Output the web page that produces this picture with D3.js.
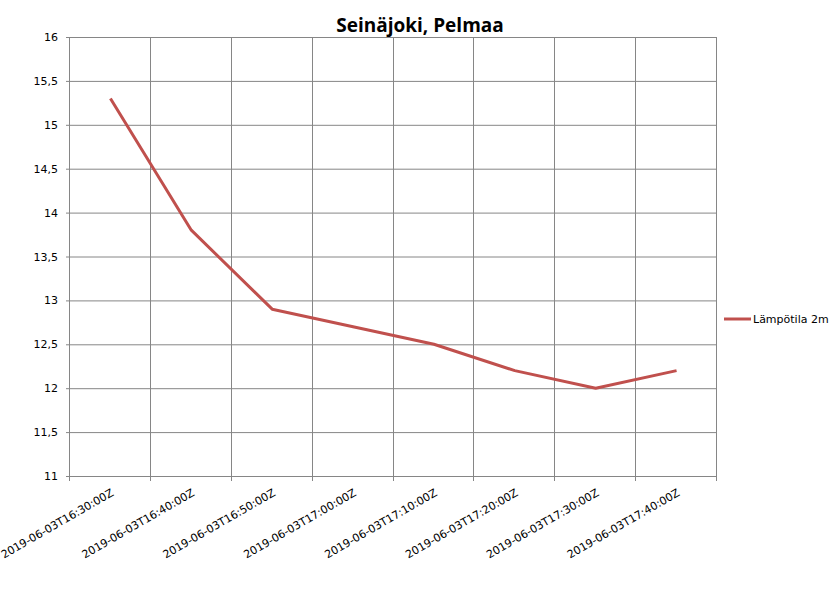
<!DOCTYPE html>
<html>
<head>
<meta charset="utf-8">
<script src="https://cdn.jsdelivr.net/npm/d3@7"></script>
<style>
body{margin:0;background:#fff;}
svg{font-family:"DejaVu Sans",Arial,sans-serif;}
</style>
</head>
<body>
<svg id="svg" width="838" height="594"></svg>
<script>
var times=["2019-06-03T16:30:00Z","2019-06-03T16:40:00Z","2019-06-03T16:50:00Z","2019-06-03T17:00:00Z",
    "2019-06-03T17:10:00Z","2019-06-03T17:20:00Z","2019-06-03T17:30:00Z","2019-06-03T17:40:00Z"];
var temps=[15.3,13.8,12.9,12.7,12.5,12.2,12.0,12.2];
var yTicks=[11,11.5,12,12.5,13,13.5,14,14.5,15,15.5,16];
var seriesName="Lämpötila 2m";
var title="Seinäjoki, Pelmaa";

var svg=d3.select('#svg');
var padding={top:37,right:121,bottom:118,left:70};
var chartArea={
    "width":838-padding.left-padding.right,
    "height":594-padding.top-padding.bottom
};
var grid="#868686";
var lineColor="#c0504d";

var xScale=d3.scaleBand().domain(times).range([0,chartArea.width]);
var yScale=d3.scaleLinear().domain([11,16]).range([chartArea.height,0]);

var g=svg.append("g").attr('transform','translate('+padding.left+','+padding.top+')');

// horizontal grid
g.selectAll(".hgrid").data(yTicks).enter().append("line")
    .attr("x1",-4).attr("x2",chartArea.width)
    .attr("y1",function(d){return yScale(d)+0.5;})
    .attr("y2",function(d){return yScale(d)+0.5;})
    .attr("stroke",grid).attr("stroke-width",1);

// vertical grid at band boundaries
var bounds=times.map(function(d){return xScale(d);}).concat([chartArea.width]);
g.selectAll(".vgrid").data(bounds).enter().append("line")
    .attr("x1",function(d){return Math.round(d)-0.5;})
    .attr("x2",function(d){return Math.round(d)-0.5;})
    .attr("y1",0).attr("y2",chartArea.height+5)
    .attr("stroke",grid).attr("stroke-width",1);

// y labels
g.selectAll(".ylab").data(yTicks).enter().append("text")
    .attr("x",-12).attr("y",function(d){return yScale(d)+4;})
    .attr("text-anchor","end").attr("font-size","11px").attr("fill","#000")
    .text(function(d){return String(d).replace(".",",");});

// x labels
g.selectAll(".xlab").data(times).enter().append("text")
    .attr("text-anchor","end").attr("font-size","11px").attr("fill","#000")
    .attr("transform",function(d){
        var x=xScale(d)+xScale.bandwidth()/2+4;
        return 'translate('+x+','+(chartArea.height+19)+') rotate(-30)';
    })
    .text(function(d){return d;});

// line
var line=d3.line()
    .x(function(d,i){return xScale(times[i])+xScale.bandwidth()/2;})
    .y(function(d){return yScale(d);});
g.append("path").datum(temps)
    .attr("d",line).attr("fill","none")
    .attr("stroke",lineColor).attr("stroke-width",3)
    .attr("stroke-linejoin","round");

// title
svg.append("text").attr("x",420).attr("y",32)
    .attr("text-anchor","middle").attr("font-size","19px").attr("font-weight","bold")
    .attr("font-family","'Open Sans',Arial,sans-serif")
    .attr("fill","#000").text(title);

// legend
svg.append("line").attr("x1",724).attr("x2",751).attr("y1",319).attr("y2",319)
    .attr("stroke",lineColor).attr("stroke-width",3);
svg.append("text").attr("x",753).attr("y",323).attr("font-size","11px")
    .attr("fill","#000").text(seriesName);
</script>
</body>
</html>
